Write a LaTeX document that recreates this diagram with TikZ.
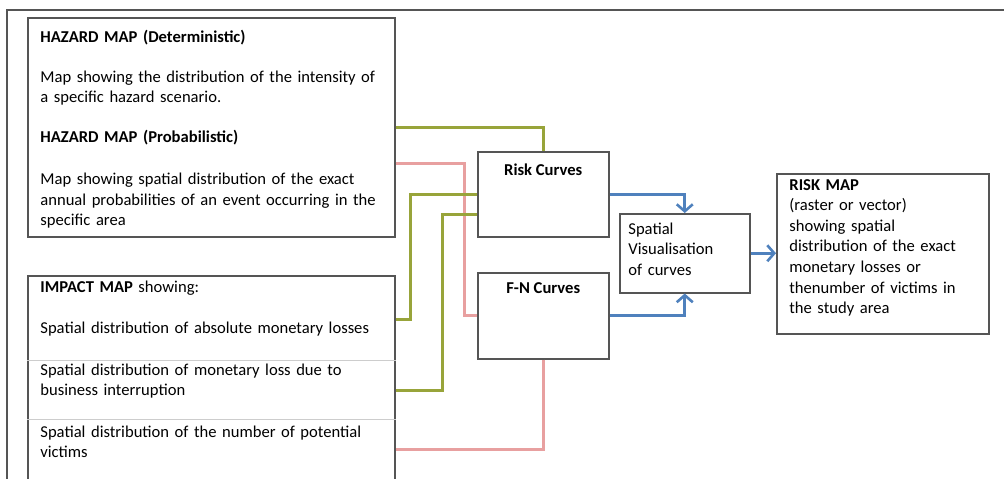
\documentclass[tikz,border=0pt]{standalone}
\usepackage{fontspec}
\setmainfont{Carlito}
\usetikzlibrary{arrows.meta}
\definecolor{boxgray}{RGB}{85,85,85}
\definecolor{rulegray}{RGB}{205,205,205}
\definecolor{linkgreen}{RGB}{152,164,58}
\definecolor{linkpink}{RGB}{232,160,160}
\definecolor{linkblue}{RGB}{79,129,189}
\tikzset{
  >={Straight Barb[length=3.5pt,width=8pt]},
  box/.style={
    draw=boxgray, line width=0.75pt, rectangle, inner sep=0pt, anchor=north west
  },
  txt/.style={
    inner sep=0pt, align=left, anchor=base west, font=\fontsize{8.3}{10.3}\selectfont
  },
  head/.style={
    inner sep=0pt, anchor=base, font=\fontsize{8.3}{10.3}\selectfont\bfseries
  },
  glink/.style={draw=linkgreen, line width=1.5pt},
  plink/.style={draw=linkpink, line width=1.5pt},
  blink/.style={draw=linkblue, line width=1.3pt, ->},
}

\begin{document}
\begin{tikzpicture}[x=0.5pt, y=-0.5pt]
  \useasboundingbox (0,0) rectangle (1004,478);
  \clip (0,0) rectangle (1004,478);
  % outer frame, cut off at right and bottom
  \draw[boxgray, line width=1pt] (7,500) -- (7,10) -- (1020,10);
  % boxes
  \node[box, minimum width=183.5pt, minimum height=109.5pt] (haz) at (27,17) {};
  \node[box, minimum width=183.5pt, minimum height=125pt] (imp) at (27,275) {};
  \draw[rulegray, line width=0.5pt] ([yshift=-42.5pt]imp.north west) -- ([yshift=-42.5pt]imp.north east);
  \draw[rulegray, line width=0.5pt] ([yshift=-72pt]imp.north west) -- ([yshift=-72pt]imp.north east);
  \node[box, minimum width=65.5pt, minimum height=42.5pt] (rc) at (477,151) {};
  \node[box, minimum width=65.5pt, minimum height=43pt] (fn) at (477,272) {};
  \node[box, minimum width=65pt, minimum height=39.5pt] (sv) at (619,213) {};
  \node[box, minimum width=106pt, minimum height=80pt] (rm) at (776,173) {};
  % texts
  \node[txt, text width=175pt] (haztxt) at (40,42) {%
    \textbf{HAZARD MAP (Deterministic)}\\[9.7pt]
    Map showing the distribution of the intensity of\\
    a specific hazard scenario.\\[9.7pt]
    \textbf{HAZARD MAP (Probabilistic)}\\[10.7pt]
    Map showing spatial distribution of the exact\\
    annual probabilities of an event occurring in the\\
    specific area};
  \node[txt, text width=175pt] (imptxt1) at (40,292) {%
    \textbf{IMPACT MAP} showing:\\[10.2pt]
    Spatial distribution of absolute monetary losses};
  \node[txt, text width=175pt] (imptxt2) at (40,375) {%
    Spatial distribution of monetary loss due to\\
    business interruption};
  \node[txt, text width=175pt] (imptxt3) at (40,437) {%
    Spatial distribution of the number of potential\\
    victims};
  \node[head] (rctxt) at ([yshift=-12pt]rc.north) {Risk Curves};
  \node[head] (fntxt) at ([yshift=-10.5pt]fn.north) {F-N Curves};
  \node[txt, text width=60pt] (svtxt) at (628,234) {%
    Spatial\\ Visualisation\\ of curves};
  \node[txt, text width=95pt] (rmtxt) at (789,190) {%
    \textbf{RISK MAP}\\
    (raster or vector)\\
    showing spatial\\
    distribution of the exact\\
    monetary losses or\\
    thenumber of victims in\\
    the study area};
  % connectors
  \draw[plink] ([yshift=-18pt]haz.east) -- ++(69,0) |- (fn.west);
  \draw[plink] (fn.south) |- ([yshift=-87pt]imp.north east);
  \draw[glink] (haz.east) -| (rc.north);
  \draw[glink] (rc.west) -- ++(-67,0) |- ([yshift=-22pt]imp.north east);
  \draw[glink] ([yshift=-10pt]rc.west) -- ++(-35,0) |- ([yshift=-57.5pt]imp.north east);
  \draw[blink] (rc.east) -| (sv.north);
  \draw[blink] (fn.east) -| (sv.south);
  \draw[blink] (sv.east) -- (sv.east -| rm.west);
\end{tikzpicture}
\end{document}
